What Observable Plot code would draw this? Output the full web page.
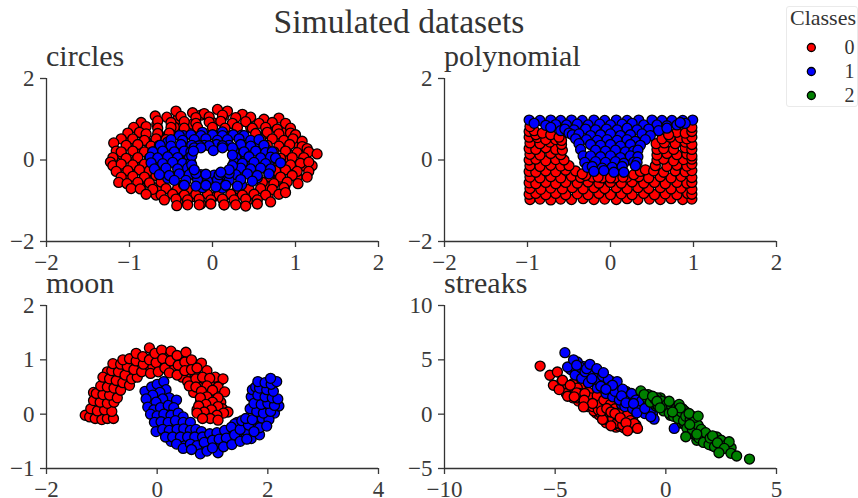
<!DOCTYPE html>
<html><head><meta charset="utf-8">
<script src="https://cdn.jsdelivr.net/npm/d3@7"></script>
<script src="https://cdn.jsdelivr.net/npm/@observablehq/plot@0.6"></script>
<style>
html,body{margin:0;padding:0;background:#fff}
#root{position:relative;width:858px;height:498px;overflow:hidden;font-family:"Liberation Serif",serif;color:#333}
#root svg{position:absolute;overflow:visible;background:none}
.t{position:absolute;white-space:nowrap;line-height:1}
</style></head><body><div id="root"></div>
<script>
const figureTitle = "Simulated datasets";
const legendTitle = "Classes";
const classNames = ["0","1","2"];
const classColors = ["#ff0000","#0000ff","#008000"];

const circlesRed = [
[1.09,.14],[1.02,.42],[.87,.67],[.67,.87],[.42,1.02],[.14,1.09],[-.14,1.1],[-.42,1.0],[-.67,.88],[-.87,.66],[-1.02,.42],[-1.09,.13],
[-1.1,-.15],[-1.02,-.4],[-.86,-.68],[-.68,-.86],[-.42,-1.03],[-.14,-1.08],[.14,-1.1],[.42,-1.0],[.67,-.88],[.87,-.66],[1.02,-.42],[1.1,-.14],
[.92,0],[.89,.24],[.8,.46],[.65,.65],[.46,.8],[.24,.89],[0,.92],[-.24,.88],[-.46,.81],[-.65,.64],[-.8,.46],[-.9,.24],[-.92,0],
[-.89,-.24],[-.8,-.46],[-.65,-.66],[-.46,-.8],[-.24,-.9],[0,-.92],[.24,-.88],[.46,-.81],[.65,-.65],[.8,-.47],[.89,-.24],
[-.44,1.2],[-.24,1.16],[-.1,1.14],[.06,1.24],[.18,1.2],[.36,1.12],
[-.69,1.08],[-.55,1.05],[-.38,1.07],[-.2,1.04],[-.04,1.06],[.12,1.1],[.28,1.04],[.46,1.05],[.62,1.0],[.8,1.03],
[-.86,.92],[-.66,.96],[-.5,.92],[-.34,.94],[-.2,.9],[-.04,.93],[.1,.95],[.24,.9],[.4,.94],[.56,.9],[.72,.92],[.88,.9],
[-.95,.8],[-.8,.82],[-.66,.78],[-.5,.8],[-.34,.78],[-.18,.8],[0,.8],[.15,.78],[.3,.8],[.48,.78],[.64,.8],[.78,.76],[.94,.78],
[-1.02,.66],[-.88,.68],[-.8,.64],[-.66,.65],[-.52,.66],[.52,.65],[.66,.68],[.8,.64],[.94,.66],[1.0,.62],
[-1.1,.52],[-.96,.52],[-.82,.48],[-.68,.52],[-.56,.5],[.58,.5],[.72,.52],[.86,.48],[.97,.52],[1.08,.46],
[-1.19,.42],[-1.04,.36],[-.9,.38],[-.74,.34],[-.64,.36],[.66,.36],[.8,.34],[.93,.38],[1.08,.33],[1.14,.28],
[-1.16,.22],[-1.1,.2],[-.96,.22],[-.82,.2],[-.72,.2],[.74,.2],[.88,.22],[1.02,.18],[1.16,.2],[1.26,.15],
[-1.2,.06],[-1.04,.04],[-.9,.06],[-.76,.04],[.74,.05],[.82,.04],[.96,.06],[1.1,.06],
[-1.23,-.05],[-1.2,-.14],[-1.1,-.1],[-.96,-.12],[-.82,-.1],[.8,-.1],[.94,-.12],[1.06,-.08],[1.2,-.14],[1.16,-.05],
[-1.16,-.28],[-1.02,-.26],[-.88,-.24],[-.76,-.26],[.76,-.26],[.88,-.24],[1.02,-.28],[1.16,-.28],
[-1.1,-.42],[-.96,-.4],[-.82,-.42],[-.68,-.38],[.68,-.4],[.82,-.42],[.96,-.38],[1.14,-.42],
[-1.13,-.55],[-1.03,-.58],[-.9,-.55],[-.76,-.56],[-.62,-.54],[.6,-.55],[.74,-.58],[.9,-.54],[1.03,-.58],
[-.98,-.7],[-.87,-.71],[-.72,-.72],[-.56,-.7],[-.42,-.7],[-.3,-.72],[.3,-.7],[.44,-.72],[.58,-.7],[.72,-.72],[.86,-.68],
[-.8,-.84],[-.62,-.86],[-.48,-.84],[-.34,-.86],[-.2,-.84],[-.06,-.84],[.08,-.86],[.22,-.84],[.36,-.86],[.5,-.84],[.64,-.86],[.8,-.84],[.88,-.8],
[-.58,-.98],[-.44,-.96],[-.3,-.98],[-.16,-.96],[-.02,-.98],[.12,-.96],[.26,-.98],[.4,-.96],[.54,-.98],[.7,-1.03],
[-.43,-1.12],[-.3,-1.1],[-.16,-1.1],[-.02,-1.08],[.14,-1.1],[.28,-1.1],[.4,-1.13],[.54,-1.08]
];
const circlesBlue = [
[.7,0],[.66,.24],[.54,.45],[.35,.61],[.12,.69],[-.12,.68],[-.35,.6],[-.54,.44],[-.66,.24],[-.7,0],[-.66,-.24],[-.54,-.45],[-.35,-.6],[-.12,-.68],[.12,-.69],[.35,-.61],[.54,-.44],[.66,-.24],
[.41,.07],[.32,.27],[.14,.39],[-.14,.38],[-.32,.27],[-.41,.07],[-.41,-.07],[-.32,-.27],[-.14,-.39],[.14,-.38],[.32,-.27],[.41,-.07],
[-.4,.6],[-.26,.62],[-.14,.6],[0,.62],[.12,.6],[.25,.62],[.38,.6],
[-.5,.5],[-.36,.48],[-.22,.5],[-.08,.52],[.06,.48],[.18,.5],[.32,.52],[.46,.48],[.56,.5],
[-.63,.36],[-.5,.34],[-.38,.38],[-.25,.36],[-.1,.36],[.05,.38],[.2,.36],[.34,.38],[.46,.34],[.62,.36],
[-.72,.2],[-.6,.22],[-.46,.2],[-.34,.22],[-.26,.2],[.26,.22],[.38,.2],[.52,.22],[.64,.18],[.72,.2],
[-.75,.07],[-.66,.05],[-.54,.08],[-.42,.06],[-.28,.05],[.28,.06],[.44,.08],[.58,.05],[.7,.07],[.76,.05],
[-.74,-.07],[-.6,-.09],[-.48,-.06],[-.36,-.08],[-.26,-.07],[.26,-.06],[.36,-.08],[.5,-.06],[.64,-.09],[.82,-.07],
[-.7,-.22],[-.56,-.2],[-.42,-.22],[-.3,-.2],[-.24,-.26],[.24,-.24],[.34,-.2],[.46,-.22],[.58,-.2],[.7,-.22],
[-.64,-.36],[-.52,-.38],[-.4,-.34],[-.28,-.36],[-.14,-.36],[.02,-.37],[.14,-.36],[.28,-.36],[.42,-.34],[.54,-.38],[.68,-.34],
[-.46,-.5],[-.32,-.5],[-.18,-.48],[-.06,-.52],[.06,-.48],[.2,-.5],[.34,-.48],[.48,-.52],
[-.34,-.62],[-.2,-.64],[-.08,-.62],[.04,-.66],[.16,-.62],[.3,-.64],
[-.16,.35],[-.04,.35],[.12,.35],[-.22,.3],[.24,.3],[-.08,-.35],[.08,-.36],[.2,-.33],[-.2,-.33],[.24,.12],[-.25,.1],[.24,-.14],[-.25,-.12],
[-.14,.3],[.01,.23],[.12,.3],[.2,-.24],[.1,-.3],[-.23,.22],[-.22,-.24]
];
const polyRed = [
[-.97,-.97],[-.85,-.96],[-.72,-.98],[-.6,-.96],[-.47,-.97],[-.33,-.95],[-.2,-.97],[-.07,-.96],[.07,-.97],[.2,-.95],[.33,-.97],[.47,-.96],[.6,-.97],[.73,-.95],[.87,-.97],[.98,-.96],
[-.98,-.84],[-.9,-.82],[-.78,-.85],[-.66,-.82],[-.54,-.85],[-.4,-.83],[-.27,-.85],[-.14,-.82],[0,-.85],[.13,-.83],[.26,-.85],[.4,-.82],[.53,-.85],[.66,-.83],[.8,-.85],[.93,-.82],[.98,-.84],
[-.97,-.7],[-.84,-.72],[-.72,-.69],[-.58,-.71],[-.46,-.68],[-.33,-.71],[-.2,-.68],[-.07,-.7],[.07,-.68],[.2,-.71],[.33,-.68],[.46,-.7],[.6,-.68],[.73,-.71],[.85,-.69],[.98,-.72],
[-.98,-.56],[-.9,-.58],[-.78,-.55],[-.66,-.58],[-.54,-.55],[-.4,-.57],[-.27,-.54],[-.14,-.57],[0,-.55],[.13,-.57],[.26,-.54],[.4,-.57],[.53,-.55],[.66,-.58],[.8,-.55],[.92,-.57],[.98,-.55],
[-.97,-.42],[-.85,-.44],[-.72,-.41],[-.6,-.44],[-.47,-.4],[-.36,-.43],[-.22,-.42],[-.1,-.44],[.05,-.44],[.2,-.42],[.34,-.41],[.46,-.44],[.6,-.41],[.73,-.44],[.85,-.4],[.98,-.43],
[-.3,-.38],[-.15,-.42],[.15,-.42],[.28,-.36],[0,-.44],
[-.98,-.28],[-.9,-.3],[-.78,-.27],[-.66,-.29],[-.54,-.25],[-.42,-.27],[-.34,-.34],[.36,-.28],[.42,-.24],[.52,-.27],[.64,-.3],[.78,-.27],[.9,-.29],[.98,-.26],
[-.97,-.14],[-.85,-.16],[-.72,-.13],[-.6,-.15],[-.5,-.14],[.54,-.14],[.68,-.16],[.8,-.13],[.92,-.15],[.98,-.1],
[-.98,0],[-.9,.02],[-.78,-.02],[-.66,.01],[-.56,0],[.56,0],[.64,.02],[.76,-.02],[.88,.01],[.98,.02],
[-.97,.14],[-.85,.12],[-.72,.16],[-.6,.13],[.56,.12],[.68,.16],[.8,.13],[.92,.15],[.98,.1],
[-.98,.28],[-.9,.26],[-.78,.3],[-.66,.26],[-.58,.24],[.56,.26],[.64,.28],[.76,.26],[.9,.3],[.98,.26],
[-.97,.42],[-.85,.4],[-.73,.44],[-.59,.38],[.55,.4],[.65,.42],[.78,.4],[.9,.44],[.98,.38],
[-.98,.56],[-.88,.55],[-.78,.5],[-.66,.5],[-.59,.48],[.62,.52],[.72,.56],[.84,.55],[.92,.52],[.98,.56],
[-.98,.7],[-.9,.62],[-.92,.72],[-.82,.66],[-.72,.62],[-.62,.56],[.92,.76],[.8,.68],[.7,.62],[.9,.66],[.98,.7],[-.97,.82],[.98,.8]
];
const polyBlue = [
[-.98,.98],[-.85,.97],[-.72,.98],[-.6,.97],[-.47,.98],[-.34,.97],[-.2,.98],[-.07,.97],[.07,.98],[.2,.97],[.34,.98],[.5,.98],[.62,.97],[.74,.97],[.87,.97],[.99,.98],
[-.92,.9],[-.78,.85],[-.66,.87],[-.53,.86],[-.4,.88],[-.27,.86],[-.13,.88],[0,.86],[.14,.88],[.26,.9],[.4,.86],[.56,.86],[.68,.84],[.9,.9],[.8,.86],[.84,.92],
[-.72,.8],[-.6,.72],[-.55,.76],[-.44,.74],[-.3,.76],[-.18,.74],[-.05,.76],[.08,.74],[.2,.78],[.32,.74],[.46,.76],[.58,.72],[.68,.78],
[-.5,.66],[-.46,.62],[-.38,.64],[-.24,.6],[-.12,.62],[0,.64],[.12,.6],[.24,.62],[.38,.64],[.48,.6],
[-.42,.52],[-.29,.5],[-.16,.48],[-.04,.5],[.08,.48],[.2,.5],[.3,.46],[.42,.5],
[-.38,.4],[-.24,.38],[-.12,.36],[0,.38],[.12,.34],[.24,.38],[.36,.36],
[-.36,.26],[-.18,.24],[-.06,.22],[.06,.24],[.18,.2],[.28,.22],[.33,.24],
[-.33,.1],[-.24,.1],[-.12,.08],[0,.1],[.12,.06],[.24,.1],[.33,.08],
[-.31,-.06],[-.18,-.04],[-.06,-.06],[.06,-.04],[.16,-.08],[.28,-.05],[.32,-.06],
[-.28,-.18],[-.22,-.16],[-.1,-.2],[.02,-.18],[.14,-.16],[.3,-.14],
[-.2,-.28],[-.08,-.26],[.04,-.3],[.16,-.3]
];
const moonRed = [
[-1.2,0],[-1.1,.15],[-.98,0],[-.85,.12],[-1.15,.4],[-1.05,.3],[-.92,.28],[-.8,.38],[-.98,.44],[-.84,.55],[-.7,.52],[-.92,.6],[-.68,.68],[-.9,.78],[-.76,.72],[-.52,.62],[-.72,.86],[-.6,.82],[-.48,.75],[-.35,.82],[-.48,.95],[-.32,.9],[-.2,.84],[-.08,.88],[-.08,1.05],[.02,1.05],[.18,1.1],[.3,1.02],[.18,.92],[.3,.82],[.44,.85],[.44,1.02],[.58,.9],[.58,.72],[.45,.68],[.68,.75],[.78,.6],[.66,.4],[.75,.5],[.6,.6],[.95,.58],[1.12,.6],[1.05,.38],[.85,.25],[.78,.22],[.95,.15],[.8,.1],[1.15,.22],[1.18,.1],[.92,-.02],[1.05,.06],[.72,.08],
[-1.3,-.02],[-1.22,-.05],[-1.12,-.08],[-1.0,-.1],[-.9,-.08],[-.79,-.08],
[-1.2,.1],[-1.08,.06],[-.95,.08],[-.82,.05],[-1.15,.25],[-1.03,.22],[-.9,.2],[-.78,.22],
[-1.1,.38],[-.98,.36],[-.86,.35],[-.72,.3],
[-1.02,.52],[-.9,.5],[-.78,.48],[-.66,.44],[-.98,.68],[-.86,.65],[-.74,.62],[-.62,.58],[-.5,.53],
[-.82,.8],[-.7,.78],[-.58,.72],[-.46,.65],[-.36,.68],[-.8,.93],[-.66,.92],[-.54,.88],[-.42,.82],[-.28,.78],
[-.62,1.0],[-.5,1.02],[-.38,.98],[-.25,.92],[-.12,.75],[-.38,1.12],[-.26,1.06],[-.14,1.0],[-.02,.95],[.02,.78],
[-.14,1.22],[-.04,1.12],[.08,1.18],[.1,1.02],[.14,.85],[.25,1.16],[.24,.98],[.22,.76],[.36,1.08],[.38,.9],[.36,.72],
[.52,1.14],[.5,.96],[.5,.8],[.62,1.0],[.62,.82],[.55,.6],[.8,.94],[.72,.85],[.7,.65],[.58,.52],[.9,.8],[.82,.68],[.7,.5],
[1.05,.68],[.95,.66],[.9,.52],[.8,.42],[1.19,.65],[1.1,.5],[1.0,.44],[.9,.32],[.78,.3],[1.22,.41],[1.1,.3],[1.0,.22],[.88,.18],[.75,.15],
[1.1,.14],[.98,.08],[.85,.04],[.72,.02],[1.28,.04],[1.2,.02],[1.08,-.02],[.96,-.08],[.82,-.08],[1.1,-.11]
];
const moonBlue = [
[1.45,-.15],[1.55,-.35],[1.7,-.45],[1.85,-.38],[1.95,-.12],[1.6,-.3],[1.4,-.18],[1.75,-.2],[1.3,-.42],[1.9,-.08],[2.12,.02],[2.02,-.1],[1.7,.32],[1.72,.45],[1.78,.5],
[0,.1],[.1,-.08],[.26,.08],[0,.3],[.3,-.08],[.42,-.06],[.3,-.2],[.55,-.25],[.15,-.22],[.42,-.35],[.25,-.5],[.5,-.5],[.66,-.5],[.8,-.6],[.95,-.55],[1.15,-.55],[1.3,-.5],[1.45,-.45],[.9,-.45],[1.1,-.4],
[-.22,.42],[-.1,.5],[0,.55],[.12,.6],[.16,.45],[.05,.4],[-.08,.35],[-.2,.28],[.22,.3],[.35,.26],[.1,.28],[-.02,.22],[-.17,.13],[-.06,.08],[.06,.12],[.2,.16],[.3,.12],
[-.12,0],[0,-.03],[.12,0],[.25,-.02],[.38,.02],[.47,-.05],[-.05,-.15],[.07,-.14],[.2,-.15],[.33,-.12],[.47,-.15],[.6,-.15],[-.02,-.32],[.1,-.28],[.22,-.3],[.36,-.28],[.48,-.27],[.6,-.3],[.7,-.28],[.8,-.32],
[.15,-.42],[.28,-.42],[.42,-.42],[.55,-.42],[.68,-.42],[.82,-.42],[.95,-.36],[1.08,-.34],[1.22,-.3],[1.34,-.24],
[.35,-.55],[.47,-.63],[.6,-.55],[.72,-.58],[.85,-.52],[1.0,-.48],[1.12,-.46],[1.25,-.44],[1.4,-.38],[1.5,-.28],[1.53,-.12],[1.65,-.2],
[.78,-.73],[.62,-.65],[.9,-.68],[1.1,-.71],[1.0,-.62],[1.2,-.6],[1.35,-.56],[1.5,-.5],[1.62,-.46],
[1.6,-.08],[1.72,-.1],[1.85,-.25],[1.98,-.22],[1.75,-.32],[1.68,.1],[1.8,.05],[1.92,.02],[2.05,.05],[1.75,.2],[1.88,.18],[2.0,.2],[2.2,.15],[2.12,.16],
[1.82,.35],[1.95,.32],[2.08,.3],[2.18,.28],[1.85,.48],[1.98,.45],[2.1,.42],[1.82,.6],[1.95,.58],[2.06,.55],[2.16,.6],[2.05,.66]
];
const streakRed = [
[-4.4,2.2],[-4.6,2.5],[-4.1,2.0],[-3.95,1.2],[-3.75,2.1],[-3.55,.7],[-3.4,1.1],[-3.15,.1],[-3.0,-.1],[-2.85,.4],[-2.6,-.25],[-2.45,-.6],[-2.25,-1.2],[-2.0,-.8],[-1.75,-1.1],[-1.5,-.5],[-1.35,-1.0],[-1.95,-.2],
[-4.2,2.8],[-4.0,1.5],[-3.85,2.5],[-3.6,1.1],[-3.5,1.6],[-3.25,.3],[-3.1,.7],[-2.95,.1],[-2.8,.8],[-2.65,-.1],[-2.55,-.8],[-2.35,-.2],[-2.2,-.4],[-2.1,-1.1],[-2,0],[-1.85,-.3],[-1.65,-.9],[-1.5,-1.1],[-1.9,-1.25],[-2.3,-.9],[-2.6,.5],[-2.7,-.8],
[-4.7,3.0],[-4.5,2.6],[-4.3,2.2],[-4.5,1.9],[-4.2,1.5],[-4.0,2.4],[-3.9,1.9],[-3.8,1.5],[-3.7,.9],[-3.5,2.0],[-3.4,1.5],[-3.3,.7],[-3.2,1.1],[-3.1,1.7],[-3.05,.4],[-2.95,.9],[-2.8,1.3],[-2.75,-.1],[-2.65,-.5],[-2.6,.2],[-2.5,.9],[-2.4,-.4],[-2.3,.5],[-2.2,-.8],[-2.15,-.2],[-2.05,.2],[-1.95,-1.0],[-1.9,-.5],[-1.75,-.1],[-1.6,-.6],[-1.55,-1.2],
[-5.68,4.43],[-5.24,3.58],[-4.9,3.88],[-5.08,2.66],[-4.82,2.26],[-4.67,3.12],[-4.32,2.66],[-4.44,1.65],[-4.03,1.96],[-4.14,1.6],[-3.66,1.9],[-3.69,1.28],[-3.31,.98],[-3.72,.67],[-2.86,-.49],[-2.48,-1.07],[-2.9,.3],[-2.67,.52],[-2.48,.2],[-2.3,.06],[-2.06,-.34],[-1.43,-.86],[-1.8,-.8],[-1.28,-1.31],[-1.73,-1.53]
];
const streakBlue = [
[-3.95,4.4],[-3.7,3.6],[-3.4,3.4],[-3.05,3.5],[-2.9,2.4],[-2.65,2.6],[-2.45,3.0],[-2.15,2.4],[-2.0,.9],[-1.8,2.1],[-1.6,1.6],[-1.3,.7],[-1.15,.9],[-.95,1.0],[-.65,.55],[-.9,.2],[-.6,.0],
[-4.2,4.3],[-4.05,4.0],[-3.9,3.8],[-3.75,4.4],[-3.6,3.4],[-3.45,3.8],[-3.25,3.0],[-3.15,3.7],[-2.95,2.8],[-2.75,3.0],[-2.55,2.2],[-2.35,2.6],[-2.25,1.7],[-2.05,2.1],[-1.9,1.3],[-1.75,1.9],[-1.6,1.2],[-1.45,.75],[-1.25,1.0],[-1.05,.6],[-.85,.35],[-.75,.7],[-1.6,.7],[-1.4,1.5],
[-4.3,4.1],[-4.1,3.6],[-4.0,4.8],[-3.85,4.3],[-3.8,3.3],[-3.65,3.9],[-3.5,2.9],[-3.3,3.9],[-3.2,3.3],[-3.1,2.4],[-3.0,3.0],[-2.85,3.5],[-2.7,1.9],[-2.6,3.2],[-2.5,2.5],[-2.4,1.6],[-2.3,2.1],[-2.2,3.0],[-2.1,1.3],[-1.95,2.3],[-1.85,.7],[-1.7,1.6],[-1.55,1.9],[-1.5,.5],[-1.35,1.3],[-1.2,.6],[-1.1,1.2],[-.95,.05],[-.8,.9],[-.7,.3],[.38,-1.31],[-.53,-.46],
[-4.44,4.34],[-4.17,5.0],[-4.03,4.5],[-3.58,4.19],[-3.43,4.59],[-3.12,4.19],[-3.34,3.27],[-2.82,3.82],[-2.94,2.57],[-2.41,2.66],[-2.71,2.29],[-2.0,1.68],[-1.8,1.04],[-1.46,.98],[-1.31,.12],[-.95,.52],[-.68,-.24],[-4.56,5.66]
];
const streakGreen = [
[-.55,1.3],[-.25,1.5],[-.45,.75],[-.05,.7],[.1,1.0],[.3,.55],[.5,.7],[.6,.0],[.3,-.1],[.85,.3],[.75,-.85],[1.2,-.2],[.95,-.75],[1.25,-1.1],[1.1,-1.7],[1.5,-1.2],[1.75,-1.8],[1.4,-2.4],[1.85,-2.6],[2.1,-2.9],[2.35,-2.3],[2.6,-3.0],[2.15,-2.6],[2.75,-2.7],[2.5,-2.9],[1.65,-2.1],
[-.8,1.8],[-.7,1.4],[-.55,1.0],[-.4,1.5],[-.3,.9],[-.15,.6],[0,1.1],[.1,.5],[.2,-.1],[.4,.7],[.5,.1],[.65,-.2],[.75,.5],[.85,-.9],[1,-.3],[1.05,-1.3],[1.15,-.9],[1.35,-1.2],[1.25,-1.8],[1.55,-1.9],[1.65,-1.6],[1.75,-2.2],[1.9,-2.4],[2.05,-2.5],[2.15,-2.1],[2.25,-2.8],[2.45,-2.9],[2.6,-2.6],[2.8,-3.1],[1.4,-2.0],
[-.85,1.5],[-.7,1.1],[-.5,1.4],[-.35,.8],[-.2,1.2],[-.1,.3],[.05,.9],[.15,.1],[.25,.8],[.35,-.2],[.45,.5],[.55,-.4],[.7,.2],[.8,-.6],[.9,-.2],[.95,-1.3],[1.1,-.5],[1.2,-1.4],[1.3,-.8],[1.45,-1.0],[1.5,-2.2],[1.6,-1.4],[1.7,-2.6],[1.8,-1.7],[1.95,-2.8],[2.0,-2.2],[2.2,-3.0],[2.3,-2.1],[2.5,-2.4],[2.7,-2.9],[2.95,-3.1],[.6,.9],[1.3,-.3],
[-1.13,2.14],[-.98,1.8],[-.6,1.65],[.15,1.19],[-.4,1.19],[-.26,.58],[.65,.58],[.3,.2],[1.05,.06],[1.46,-.18],[1.08,-.95],[.9,-2.08],[1.4,-1.83],[2.11,-1.99],[2.33,-2.63],[2.86,-2.54],[2.64,-3.15],[2.4,-3.55],[2.94,-3.6],[3.2,-3.85],[3.78,-4.13]
];

const panels = [
 {name:"circles",left:0,top:65,ml:46,xd:[-2,2],yd:[-2,2],xt:[-2,-1,0,1,2],yt:[-2,0,2],series:[circlesRed,circlesBlue]},
 {name:"polynomial",left:400,top:65,ml:44,xd:[-2,2],yd:[-2,2],xt:[-2,-1,0,1,2],yt:[-2,0,2],series:[polyRed,polyBlue]},
 {name:"moon",left:0,top:292,ml:46,xd:[-2,4],yd:[-1,2],xt:[-2,0,2,4],yt:[-1,0,1,2],series:[moonRed,moonBlue]},
 {name:"streaks",left:400,top:292,ml:44,xd:[-10,5],yd:[-5,10],xt:[-10,-5,0,5],yt:[-5,0,5,10],series:[streakRed,streakBlue,streakGreen]}
];

const root = document.getElementById("root");
function label(text,left,top,size,extra){
  const d=document.createElement("div");d.className="t";d.textContent=text;
  d.style.left=left+"px";d.style.top=top+"px";d.style.fontSize=size+"px";
  if(extra)Object.assign(d.style,extra);root.appendChild(d);
}
label(figureTitle,399,5,33.6,{transform:"translateX(-50%)"});
const tf = d => String(d).replace("-","\u2212");

for(const p of panels){
  const plot = Plot.plot({
    width:400,height:210,
    marginLeft:p.ml,marginRight:400-p.ml-332,marginTop:13,marginBottom:34,
    style:{fontFamily:"Liberation Serif",color:"#3a3a3a",background:"none"},
    x:{domain:p.xd},y:{domain:p.yd},
    marks:[
      Plot.axisX({ticks:p.xt,tickFormat:tf,tickSize:6,tickPadding:6,label:null,strokeWidth:1.3,fontSize:23}),
      Plot.axisY({ticks:p.yt,tickFormat:tf,tickSize:6,tickPadding:6,label:null,strokeWidth:1.3,fontSize:23}),
      Plot.ruleY([p.yd[0]],{stroke:"#333",strokeWidth:1.3}),
      Plot.ruleX([p.xd[0]],{stroke:"#333",strokeWidth:1.3}),
      ...p.series.map((s,i)=>Plot.dot(s,{x:d=>d[0],y:d=>d[1],r:5,fill:classColors[i],stroke:"#000",strokeWidth:1.3}))
    ]
  });
  plot.style.left=p.left+"px";plot.style.top=p.top+"px";
  root.appendChild(plot);
  label(p.name,p.left+p.ml,p.top-24,30);
}

const box=document.createElement("div");
Object.assign(box.style,{position:"absolute",left:"786px",top:"6px",width:"72px",height:"101px",border:"1px solid #eaeaea",borderRadius:"3px",boxSizing:"border-box"});
root.appendChild(box);
label(legendTitle,823,7,22,{transform:"translateX(-50%)"});
const legendRows=classNames.map((c,i)=>({c,color:classColors[i]}));
const legend=Plot.plot({
  width:72,height:100,marginLeft:0,marginRight:0,marginTop:40,marginBottom:11,
  style:{fontFamily:"Liberation Serif",color:"#333",background:"none"},
  x:{domain:[0,1],axis:null},y:{type:"point",domain:classNames,axis:null,padding:0},
  marks:[
    Plot.dot(legendRows,{x:()=>.345,y:"c",r:4,fill:"color",stroke:"#000",strokeWidth:1.3}),
    Plot.text(legendRows,{x:()=>.875,y:"c",text:"c",fontSize:20,fill:"#333"})
  ]
});
legend.style.left="786px";legend.style.top="6px";
root.appendChild(legend);
</script></body></html>
